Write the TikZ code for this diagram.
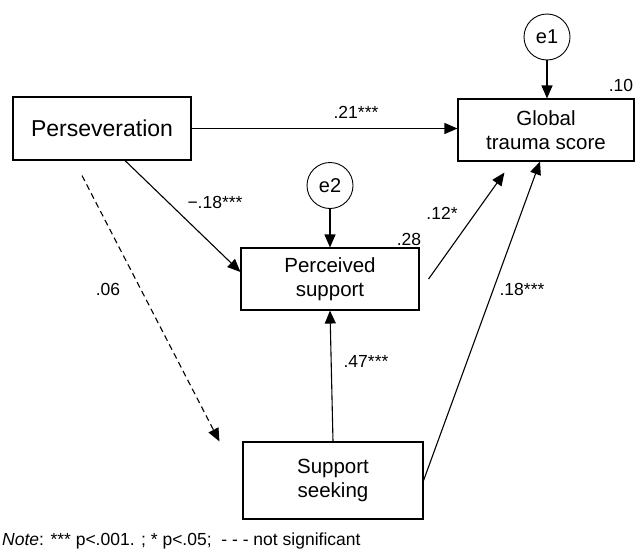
\documentclass[tikz,border=0pt]{standalone}
\usepackage{fontspec}
\setmainfont{Liberation Sans}
\usetikzlibrary{arrows.meta}
\begin{document}
\begin{tikzpicture}[x=1pt,y=-1pt,
  box/.style={draw, line width=1.1pt, rectangle, align=center, inner sep=0pt},
  err/.style={draw, line width=0.9pt, circle, inner sep=0pt, minimum size=46pt, font=\fontsize{20}{23}\selectfont},
  path/.style={line width=1.1pt, -{Triangle[length=13pt,width=11pt]}},
  lab/.style={font=\fontsize{17.5}{20}\selectfont, inner sep=0pt},
  btxt/.style={font=\fontsize{20.5}{24.5}\selectfont}]
\useasboundingbox (0,0) rectangle (635,549);
\node[box, minimum width=178pt, minimum height=63pt, font=\fontsize{23}{26}\selectfont] (pers) at (102,128.5) {Perseveration};
\node[box, btxt, minimum width=176pt, minimum height=62pt] (glob) at (546,130) {Global\\trauma score};
\node[box, btxt, minimum width=178pt, minimum height=62pt] (perc) at (330,279) {Perceived\\support};
\node[box, btxt, minimum width=180pt, minimum height=77pt] (seek) at (333,480.5) {Support\\seeking};
\node[err] (e1) at (547,37) {e1};
\node[err] (e2) at (330,185.5) {e2};
\draw[path] (e1) -- (e1.south |- glob.north);
\draw[path] (e2) -- (e2.south |- perc.north);
\draw[path] (pers.east) -- (pers.east -| glob.west);
\draw[path] ([xshift=23pt]pers.south) -- ([yshift=7pt]perc.west);
\draw[path, dash pattern=on 6pt off 4pt] ([xshift=-20pt,yshift=-15pt]pers.south) -- ([xshift=-23pt]seek.north west);
\draw[path] ([xshift=9pt]perc.east) -- ([xshift=47pt,yshift=-11pt]glob.south west);
\draw[path] (seek.east) -- ([xshift=-6pt]glob.south);
\draw[path] (seek.north) -- (perc.south);
\node[lab] (l21) at (356,112) {.21***};
\node[lab] (l18a) at (215,202) {−.18***};
\node[lab] (l06) at (108,289) {.06};
\node[lab] (l12) at (442,213) {.12*};
\node[lab] (l18b) at (522,289) {.18***};
\node[lab] (l47) at (366,361) {.47***};
\node[lab] (l10) at (621,85) {.10};
\node[lab] (l28) at (409,239) {.28};
\node[lab, anchor=west] (note) at (2,541) {\textit{Note}: *** p<.001. ; * p<.05;\ \ - - - not significant};
\end{tikzpicture}
\end{document}
